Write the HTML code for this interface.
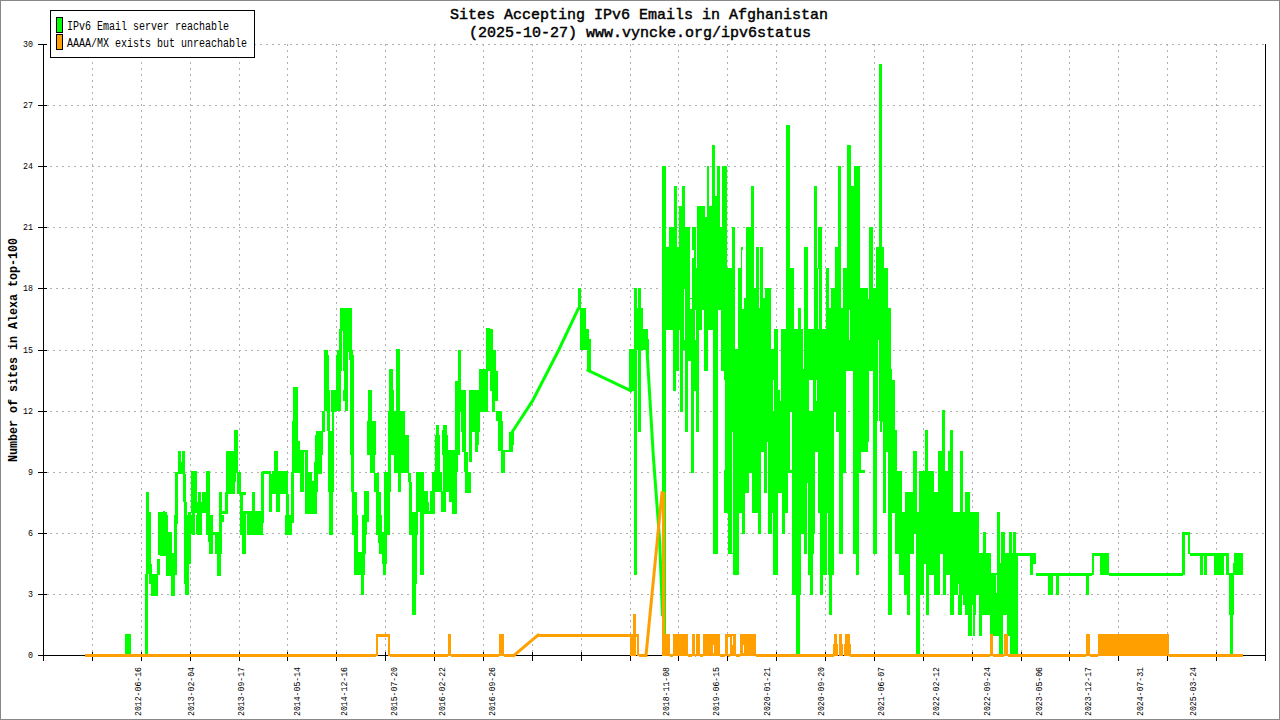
<!DOCTYPE html><html><head><meta charset="utf-8"><style>html,body{margin:0;padding:0;background:#fff;overflow:hidden}svg{display:block}text{font-family:"Liberation Mono",monospace}</style></head><body><svg width="1280" height="720" viewBox="0 0 1280 720">
<rect x="0" y="0" width="1280" height="720" fill="#fff"/>
<path d="M47 594.5H1265 M47 472.5H1265 M47 350.5H1265 M47 227.5H1265 M47 105.5H1265" stroke="#b0b0b0" stroke-width="1" stroke-dasharray="2 4" fill="none" shape-rendering="crispEdges"/>
<path d="M47 533.5H1265 M47 411.5H1265 M47 288.5H1265 M47 166.5H1265 M47 44.5H1265" stroke="#b0b0b0" stroke-width="1" stroke-dasharray="2 4" stroke-dashoffset="3" fill="none" shape-rendering="crispEdges"/>
<path d="M92.5 44V652 M141.5 44V652 M190.5 44V652 M239.5 44V652 M287.5 44V652 M336.5 44V652 M385.5 44V652 M434.5 44V652 M483.5 44V652 M532.5 44V652 M581.5 44V652 M630.5 44V652 M678.5 44V652 M727.5 44V652 M776.5 44V652 M825.5 44V652 M874.5 44V652 M923.5 44V652 M972.5 44V652 M1021.5 44V652 M1069.5 44V652 M1118.5 44V652 M1167.5 44V652 M1216.5 44V652" stroke="#b0b0b0" stroke-width="1" stroke-dasharray="2 4" fill="none" shape-rendering="crispEdges"/>
<path d="M43.5 44V661 M38 655.5H1266 M1265.5 44V661 M38 594.5H47 M38 533.5H47 M38 472.5H47 M38 411.5H47 M38 350.5H47 M38 288.5H47 M38 227.5H47 M38 166.5H47 M38 105.5H47 M38 44.5H47 M92.5 652V661 M141.5 652V661 M190.5 652V661 M239.5 652V661 M287.5 652V661 M336.5 652V661 M385.5 652V661 M434.5 652V661 M483.5 652V661 M532.5 652V661 M581.5 652V661 M630.5 652V661 M678.5 652V661 M727.5 652V661 M776.5 652V661 M825.5 652V661 M874.5 652V661 M923.5 652V661 M972.5 652V661 M1021.5 652V661 M1069.5 652V661 M1118.5 652V661 M1167.5 652V661 M1216.5 652V661" stroke="#000" stroke-width="1" fill="none" shape-rendering="crispEdges"/>
<path d="M85 654H125V657H85ZM125 634H131V656H125ZM578 288H581V310H578ZM581 308H584V311H581ZM580 308H586V350H580ZM584 329H589V350H584ZM587 339H591V371H587ZM629 349H634V391H629ZM634 288H637V575H634ZM637 308H638V350H637ZM638 288H641V432H638ZM641 308H643V350H641ZM643 329H648V350H643ZM647 339H649V355H647ZM662 166H666V656H662ZM666 247H669V330H666ZM669 227H673V330H669ZM673 227H674V391H673ZM674 186H676V391H674ZM676 186H677V371H676ZM677 247H679V371H677ZM679 206H680V330H679ZM680 206H682V412H680ZM682 186H683V412H682ZM683 186H685V350H683ZM685 227H686V350H685ZM685 227H688V432H685ZM688 227H690V361H688ZM690 298H691V361H690ZM691 298H692V473H691ZM692 227H694V473H692ZM694 227H696V391H694ZM696 257H697V432H696ZM697 206H699V432H697ZM699 206H704V330H699ZM704 206H705V371H704ZM705 217H707V371H705ZM707 166H708V371H707ZM707 166H709V330H707ZM709 206H712V330H709ZM712 145H713V330H712ZM713 145H715V554H713ZM715 196H717V554H715ZM717 166H718V554H717ZM717 166H720V310H717ZM720 227H721V310H720ZM721 227H722V371H721ZM722 166H724V371H722ZM724 166H727V513H724ZM727 268H728V513H727ZM728 268H732V554H728ZM732 227H733V554H732ZM732 227H733V432H732ZM733 227H735V575H733ZM735 349H738V575H735ZM738 268H739V575H738ZM739 268H741V513H739ZM741 247H742V513H741ZM742 247H743V534H742ZM743 298H745V534H743ZM745 298H746V493H745ZM746 227H749V493H746ZM749 227H751V473H749ZM751 186H752V473H751ZM752 186H754V513H752ZM754 288H756V513H754ZM756 247H758V513H756ZM758 247H759V534H758ZM759 308H760V534H759ZM760 247H761V534H760ZM761 247H763V452H761ZM763 298H764V452H763ZM764 298H765V493H764ZM765 288H767V493H765ZM767 288H768V452H767ZM768 288H771V534H768ZM771 349H772V534H771ZM772 349H773V513H772ZM773 349H774V575H773ZM774 329H778V575H774ZM778 390H781V493H778ZM781 329H782V493H781ZM782 329H785V534H782ZM785 329H786V513H785ZM786 125H788V513H786ZM788 125H790V473H788ZM790 268H792V473H790ZM792 268H794V595H792ZM794 329H796V595H794ZM796 329H798V656H796ZM798 308H800V656H798ZM800 308H801V595H800ZM801 329H803V534H801ZM803 369H804V534H803ZM804 247H807V554H804ZM807 247H808V483H807ZM808 329H810V575H808ZM810 329H813V595H810ZM813 329H814V554H813ZM814 186H815V534H814ZM815 186H817V452H815ZM817 268H818V452H817ZM818 227H820V513H818ZM820 227H822V595H820ZM822 329H823V595H822ZM823 329H826V575H823ZM826 268H827V575H826ZM827 268H828V513H827ZM828 268H829V575H828ZM829 308H831V615H829ZM831 288H832V615H831ZM832 288H834V575H832ZM834 288H835V463H834ZM835 247H838V463H835ZM838 166H839V463H838ZM839 166H841V554H839ZM841 308H843V554H841ZM843 268H846V473H843ZM846 268H847V371H846ZM847 145H849V371H847ZM849 145H851V371H849ZM851 186H853V371H851ZM853 186H854V554H853ZM854 166H856V554H854ZM856 166H859V575H856ZM859 166H860V473H859ZM859 288H865V473H859ZM865 288H868V452H865ZM868 288H869V442H868ZM869 227H873V371H869ZM873 288H876V554H873ZM876 247H877V554H876ZM877 247H878V442H877ZM878 247H879V340H878ZM879 64H882V432H879ZM882 247H883V422H882ZM883 247H884V513H883ZM884 268H886V513H884ZM886 268H888V452H886ZM888 308H891V615H888ZM890 369H892V615H890ZM892 380H895V513H892ZM895 430H896V534H895ZM895 430H897V554H895ZM897 471H899V554H897ZM899 471H902V575H899ZM902 512H904V575H902ZM904 512H905V595H904ZM905 492H907V595H905ZM907 492H910V615H907ZM910 492H913V554H910ZM913 451H914V554H913ZM914 451H916V534H914ZM916 451H917V656H916ZM916 512H919V656H916ZM919 471H920V656H919ZM920 471H924V595H920ZM924 471H925V564H924ZM925 430H926V564H925ZM926 430H928V615H926ZM928 471H929V615H928ZM929 471H934V575H929ZM934 492H938V595H934ZM938 451H940V595H938ZM940 451H942V554H940ZM942 410H943V554H942ZM943 410H945V595H943ZM945 471H946V595H945ZM946 471H948V575H946ZM948 451H950V575H948ZM950 430H953V615H950ZM953 512H954V615H953ZM954 512H958V595H954ZM958 512H960V615H958ZM960 451H962V615H960ZM962 451H963V605H962ZM963 512H965V605H963ZM965 492H968V615H965ZM968 492H970V636H968ZM970 512H975V636H970ZM975 512H979V615H975ZM979 553H982V636H979ZM982 553H983V615H982ZM983 532H986V615H983ZM986 553H990V615H986ZM990 553H991V636H990ZM991 573H997V636H991ZM997 512H999V636H997ZM999 512H1000V656H999ZM1000 563H1001V656H1000ZM1001 532H1003V656H1001ZM1003 532H1005V615H1003ZM1005 553H1007V615H1005ZM1007 553H1009V636H1007ZM1009 532H1010V636H1009ZM1010 532H1012V656H1010ZM1012 553H1013V656H1012ZM1013 532H1016V656H1013ZM1016 553H1018V656H1016ZM1018 553H1036V556H1018ZM1030 553H1033V575H1030ZM1033 553H1036V564H1033ZM1036 573H1092V576H1036ZM1048 573H1053V595H1048ZM1056 573H1059V595H1056ZM1086 573H1089V595H1086ZM1092 553H1094V575H1092ZM1094 553H1100V556H1094ZM1100 553H1109V575H1100ZM1109 573H1183V576H1109ZM1182 532H1185V575H1182ZM1185 532H1190V535H1185ZM1188 532H1190V554H1188ZM1190 553H1228V556H1190ZM1200 553H1203V575H1200ZM1204 553H1207V575H1204ZM1214 553H1224V575H1214ZM1226 553H1229V575H1226ZM1229 573H1234V615H1229ZM1230 614H1233V656H1230ZM1233 563H1236V575H1233ZM1234 553H1243V575H1234ZM146 492H149V535H146ZM149 512H151V535H149ZM158 512H167V535H158ZM163 511H165V515H163ZM165 522H168V535H165ZM174 522H176V535H174ZM175 472H178V524H175ZM178 451H181V474H178ZM181 462H182V474H181ZM182 451H185V474H182ZM183 474H186V502H183ZM184 502H187V535H184ZM188 512H191V535H188ZM191 471H197V513H191ZM192 513H195V535H192ZM197 513H202V535H197ZM197 502H199V513H197ZM198 492H201V513H198ZM201 502H202V513H201ZM202 492H206V513H202ZM206 471H210V535H206ZM219 492H222V535H219ZM222 511H228V514H222ZM225 492H228V514H225ZM226 451H235V494H226ZM234 430H238V473H234ZM235 473H236V482H235ZM237 430H238V494H237ZM238 472H241V494H238ZM240 494H242V535H240ZM240 492H246V515H240ZM242 511H249V514H242ZM246 511H264V535H246ZM252 492H255V514H252ZM261 472H264V502H261ZM262 471H271V474H262ZM269 474H272V512H269ZM271 482H275V494H271ZM274 451H278V494H274ZM272 471H288V494H272ZM276 494H280V512H276ZM286 494H289V523H286ZM289 521H292V524H289ZM291 472H294V523H291ZM292 421H295V472H292ZM296 441H300V473H296ZM293 387H298V473H293ZM145 574H148V655H145ZM146 515H151V574H146ZM149 564H152V584H149ZM151 574H158V596H151ZM157 559H160V575H157ZM158 515H168V555H158ZM160 554H166V556H160ZM166 532H172V576H166ZM171 553H175V596H171ZM174 515H177V575H174ZM175 515H178V522H175ZM184 515H188V584H184ZM185 532H189V595H185ZM188 515H191V564H188ZM190 515H192V534H190ZM196 515H202V534H196ZM208 515H213V542H208ZM209 542H213V554H209ZM210 532H222V535H210ZM215 532H222V554H215ZM217 554H221V576H217ZM219 515H224V522H219ZM240 515H246V534H240ZM242 534H246V554H242ZM247 515H264V534H247ZM261 500H264V511H261ZM285 515H292V535H285ZM300 450H304V492H300ZM302 450H308V452H302ZM305 452H308V482H305ZM308 472H312V514H308ZM305 481H317V514H305ZM313 491H317V514H313ZM314 462H318V492H314ZM315 435H322V452H315ZM315 452H318V462H315ZM318 452H322V474H318ZM328 435H334V492H328ZM329 492H333V535H329ZM351 435H354V492H351ZM352 492H357V535H352ZM363 522H367V535H363ZM364 491H369V522H364ZM367 435H375V452H367ZM370 452H375V473H370ZM374 473H379V492H374ZM376 492H381V535H376ZM384 472H390V535H384ZM388 435H391V492H388ZM394 435H409V473H394ZM405 435H409V450H405ZM398 473H401V492H398ZM408 473H411V482H408ZM409 482H412V512H409ZM409 512H418V535H409ZM416 472H423V512H416ZM420 512H424V535H420ZM423 491H428V514H423ZM427 512H434V514H427ZM431 491H435V514H431ZM432 472H442V492H432ZM435 435H440V472H435ZM442 492H446V512H442ZM443 435H448V450H443ZM446 450H454V492H446ZM455 435H458V472H455ZM449 472H457V502H449ZM452 502H457V514H452ZM329 515H332V534H329ZM354 515H358V575H354ZM357 552H365V575H357ZM362 515H366V554H362ZM361 575H364V595H361ZM364 515H367V523H364ZM378 515H382V543H378ZM379 532H387V554H379ZM382 554H387V564H382ZM383 564H386V575H383ZM384 515H390V534H384ZM409 515H418V534H409ZM412 534H417V584H412ZM412 584H416V615H412ZM420 515H424V575H420ZM316 431H323V455H316ZM322 411H325V432H322ZM324 355H329V411H324ZM329 390H330V411H329ZM327 411H330V431H327ZM328 431H334V455H328ZM331 390H336V412H331ZM332 412H334V431H332ZM336 355H341V411H336ZM343 355H345V401H343ZM345 355H348V411H345ZM350 355H354V455H350ZM368 390H372V431H368ZM367 421H376V455H367ZM389 369H393V431H389ZM392 390H394V411H392ZM396 355H400V421H396ZM388 411H405V455H388ZM402 411H405V421H402ZM436 431H439V455H436ZM442 431H447V455H442ZM455 410H460V455H455ZM458 355H460V432H458ZM455 381H458V410H455ZM324 350H328V375H324ZM337 350H340V375H337ZM339 329H343V375H339ZM340 308H352V352H340ZM340 352H342V375H340ZM343 352H348V375H343ZM348 350H353V360H348ZM350 360H354V375H350ZM390 369H392V375H390ZM396 349H400V375H396ZM458 350H460V375H458ZM458 350H461V360H458ZM486 328H490V360H486ZM490 329H493V360H490ZM493 350H496V360H493ZM442 430H447V445H442ZM455 411H458V445H455ZM458 350H461V412H458ZM457 381H461V412H457ZM461 390H466V432H461ZM462 432H466V445H462ZM469 390H480V432H469ZM469 432H472V445H469ZM475 432H479V445H475ZM479 369H488V412H479ZM486 350H496V371H486ZM490 371H498V391H490ZM492 391H498V401H492ZM492 401H495V412H492ZM496 411H502V421H496ZM498 421H503V445H498ZM511 432H514V445H511ZM420 472H424V525H420ZM424 491H428V504H424ZM427 502H429V513H427ZM427 511H434V514H427ZM430 491H435V513H430ZM432 482H436V492H432ZM435 451H439V472H435ZM433 472H442V492H433ZM436 425H439V472H436ZM441 491H446V512H441ZM442 502H446V512H442ZM443 425H447V492H443ZM446 450H458V472H446ZM449 472H452V482H449ZM450 482H457V502H450ZM453 502H457V513H453ZM456 425H458V472H456ZM462 425H466V452H462ZM464 452H468V472H464ZM465 472H471V493H465ZM469 425H472V462H469ZM469 425H479V432H469ZM475 432H478V452H475ZM498 425H503V451H498ZM501 451H505V473H501ZM502 450H511V452H502ZM509 432H513V452H509Z" fill="#00ff00"/><path d="M342 331H343V371H342ZM348 352H349V390H348ZM341 371H344V390H341ZM246 514H247V540H246ZM263 523H264V534H263ZM243 495H246V511H243ZM720 380H725V470H720ZM732 432H733V553H732ZM773 380H774V411H773ZM780 390H781V401H780ZM790 412H792V470H790ZM809 380H813V411H809ZM816 380H817V401H816ZM834 412H836V470H834ZM836 432H839V470H836ZM861 452H865V470H861ZM877 421H880V445H877ZM767 442H768V470H767ZM684 289H685V340H684ZM690 299H692V309H690ZM692 250H694V258H692ZM695 310H696V340H695ZM696 250H697V268H696ZM702 310H704V330H702ZM742 250H744V309H742ZM778 320H781V340H778ZM818 269H819V329H818ZM849 310H850V340H849ZM868 288H869V299H868ZM958 584H959V595H958ZM962 595H963V615H962ZM972 605H973V636H972ZM976 595H979V615H976ZM996 575H997V593H996Z" fill="#fff"/><polyline points="512.50,431.47 532.50,400.92 558.75,350.00 578.00,309.27" fill="none" stroke="#00ff00" stroke-width="3" stroke-linecap="square"/><polyline points="588.00,370.37 630.80,390.73" fill="none" stroke="#00ff00" stroke-width="3" stroke-linecap="square"/><polyline points="647.00,350.00 653.30,455.91 659.60,539.41 662.50,614.77" fill="none" stroke="#00ff00" stroke-width="3" stroke-linecap="square"/><path d="M85 654H376V657H85ZM376 634H378V656H376ZM376 634H390V637H376ZM388 634H390V656H388ZM390 654H448V657H390ZM448 634H451V656H448ZM451 654H499V657H451ZM499 634H504V656H499ZM504 654H514V657H504ZM538 634H630V637H538ZM630 634H633V656H630ZM633 614H636V656H633ZM636 634H639V637H636ZM637 634H639V656H637ZM639 654H646V657H639ZM662 492H665V656H662ZM663 634H670V656H663ZM670 654H673V657H670ZM673 634H688V656H673ZM688 654H692V657H688ZM692 634H695V656H692ZM695 654H696V657H695ZM696 634H700V656H696ZM700 654H703V657H700ZM703 634H720V656H703ZM720 654H725V657H720ZM725 634H728V656H725ZM728 654H730V657H728ZM728 634H730V637H728ZM730 634H736V656H730ZM736 654H740V657H736ZM740 634H756V656H740ZM756 654H834V657H756ZM834 634H837V646H834ZM833 644H838V656H833ZM839 634H842V646H839ZM839 644H843V656H839ZM845 634H850V646H845ZM844 644H851V656H844ZM850 654H990V657H850ZM990 634H993V656H990ZM993 654H1004V657H993ZM1004 634H1008V656H1004ZM1008 654H1086V657H1008ZM1086 634H1090V656H1086ZM1090 654H1098V657H1090ZM1098 634H1169V656H1098ZM1169 654H1243V657H1169Z" fill="#ffa000"/><polyline points="514.00,655.50 538.00,635.13" fill="none" stroke="#ffa000" stroke-width="3" stroke-linecap="square"/><polyline points="646.00,655.50 662.00,492.57" fill="none" stroke="#ffa000" stroke-width="3" stroke-linecap="square"/><path d="M713 645H714V653H713ZM732 636H733V645H732ZM743 645H744V653H743ZM671 636H673V653H671Z" fill="#fff"/>
<text x="33" y="657.5" font-family="Liberation Mono" font-size="9" text-anchor="end" textLength="5" lengthAdjust="spacingAndGlyphs" fill="#000">0</text>
<text x="33" y="596.5" font-family="Liberation Mono" font-size="9" text-anchor="end" textLength="5" lengthAdjust="spacingAndGlyphs" fill="#000">3</text>
<text x="33" y="535.5" font-family="Liberation Mono" font-size="9" text-anchor="end" textLength="5" lengthAdjust="spacingAndGlyphs" fill="#000">6</text>
<text x="33" y="474.5" font-family="Liberation Mono" font-size="9" text-anchor="end" textLength="5" lengthAdjust="spacingAndGlyphs" fill="#000">9</text>
<text x="33" y="413.5" font-family="Liberation Mono" font-size="9" text-anchor="end" textLength="10" lengthAdjust="spacingAndGlyphs" fill="#000">12</text>
<text x="33" y="352.5" font-family="Liberation Mono" font-size="9" text-anchor="end" textLength="10" lengthAdjust="spacingAndGlyphs" fill="#000">15</text>
<text x="33" y="290.5" font-family="Liberation Mono" font-size="9" text-anchor="end" textLength="10" lengthAdjust="spacingAndGlyphs" fill="#000">18</text>
<text x="33" y="229.5" font-family="Liberation Mono" font-size="9" text-anchor="end" textLength="10" lengthAdjust="spacingAndGlyphs" fill="#000">21</text>
<text x="33" y="168.5" font-family="Liberation Mono" font-size="9" text-anchor="end" textLength="10" lengthAdjust="spacingAndGlyphs" fill="#000">24</text>
<text x="33" y="107.5" font-family="Liberation Mono" font-size="9" text-anchor="end" textLength="10" lengthAdjust="spacingAndGlyphs" fill="#000">27</text>
<text x="33" y="46.5" font-family="Liberation Mono" font-size="9" text-anchor="end" textLength="10" lengthAdjust="spacingAndGlyphs" fill="#000">30</text>
<text transform="translate(141 716) rotate(-90)" x="0" y="0" font-family="Liberation Mono" font-size="9" textLength="49" lengthAdjust="spacingAndGlyphs" fill="#000">2012-06-16</text>
<text transform="translate(194 716) rotate(-90)" x="0" y="0" font-family="Liberation Mono" font-size="9" textLength="49" lengthAdjust="spacingAndGlyphs" fill="#000">2013-02-04</text>
<text transform="translate(244 716) rotate(-90)" x="0" y="0" font-family="Liberation Mono" font-size="9" textLength="49" lengthAdjust="spacingAndGlyphs" fill="#000">2013-09-17</text>
<text transform="translate(300 716) rotate(-90)" x="0" y="0" font-family="Liberation Mono" font-size="9" textLength="49" lengthAdjust="spacingAndGlyphs" fill="#000">2014-05-14</text>
<text transform="translate(347 716) rotate(-90)" x="0" y="0" font-family="Liberation Mono" font-size="9" textLength="49" lengthAdjust="spacingAndGlyphs" fill="#000">2014-12-16</text>
<text transform="translate(396.6 716) rotate(-90)" x="0" y="0" font-family="Liberation Mono" font-size="9" textLength="49" lengthAdjust="spacingAndGlyphs" fill="#000">2015-07-20</text>
<text transform="translate(445.4 716) rotate(-90)" x="0" y="0" font-family="Liberation Mono" font-size="9" textLength="49" lengthAdjust="spacingAndGlyphs" fill="#000">2016-02-22</text>
<text transform="translate(494.75 716) rotate(-90)" x="0" y="0" font-family="Liberation Mono" font-size="9" textLength="49" lengthAdjust="spacingAndGlyphs" fill="#000">2016-09-26</text>
<text transform="translate(669 716) rotate(-90)" x="0" y="0" font-family="Liberation Mono" font-size="9" textLength="49" lengthAdjust="spacingAndGlyphs" fill="#000">2018-11-08</text>
<text transform="translate(719 716) rotate(-90)" x="0" y="0" font-family="Liberation Mono" font-size="9" textLength="49" lengthAdjust="spacingAndGlyphs" fill="#000">2019-06-15</text>
<text transform="translate(770.4 716) rotate(-90)" x="0" y="0" font-family="Liberation Mono" font-size="9" textLength="49" lengthAdjust="spacingAndGlyphs" fill="#000">2020-01-21</text>
<text transform="translate(824 716) rotate(-90)" x="0" y="0" font-family="Liberation Mono" font-size="9" textLength="49" lengthAdjust="spacingAndGlyphs" fill="#000">2020-09-20</text>
<text transform="translate(883.5 716) rotate(-90)" x="0" y="0" font-family="Liberation Mono" font-size="9" textLength="49" lengthAdjust="spacingAndGlyphs" fill="#000">2021-06-07</text>
<text transform="translate(939 716) rotate(-90)" x="0" y="0" font-family="Liberation Mono" font-size="9" textLength="49" lengthAdjust="spacingAndGlyphs" fill="#000">2022-02-12</text>
<text transform="translate(990 716) rotate(-90)" x="0" y="0" font-family="Liberation Mono" font-size="9" textLength="49" lengthAdjust="spacingAndGlyphs" fill="#000">2022-09-24</text>
<text transform="translate(1042 716) rotate(-90)" x="0" y="0" font-family="Liberation Mono" font-size="9" textLength="49" lengthAdjust="spacingAndGlyphs" fill="#000">2023-05-06</text>
<text transform="translate(1091 716) rotate(-90)" x="0" y="0" font-family="Liberation Mono" font-size="9" textLength="49" lengthAdjust="spacingAndGlyphs" fill="#000">2023-12-17</text>
<text transform="translate(1143 716) rotate(-90)" x="0" y="0" font-family="Liberation Mono" font-size="9" textLength="49" lengthAdjust="spacingAndGlyphs" fill="#000">2024-07-31</text>
<text transform="translate(1196 716) rotate(-90)" x="0" y="0" font-family="Liberation Mono" font-size="9" textLength="49" lengthAdjust="spacingAndGlyphs" fill="#000">2025-03-24</text>
<text transform="translate(17 462) rotate(-90)" x="0" y="0" font-family="Liberation Mono" font-weight="bold" font-size="13.5" textLength="224" lengthAdjust="spacingAndGlyphs" fill="#000">Number of sites in Alexa top-100</text>
<text x="450" y="19" font-family="Liberation Mono" font-size="15" stroke="#000" stroke-width="0.45" textLength="378" lengthAdjust="spacingAndGlyphs" fill="#000">Sites Accepting IPv6 Emails in Afghanistan</text>
<text x="469" y="37" font-family="Liberation Mono" font-size="15" stroke="#000" stroke-width="0.45" textLength="342" lengthAdjust="spacingAndGlyphs" fill="#000">(2025-10-27) www.vyncke.org/ipv6status</text>
<rect x="50.5" y="10.5" width="204" height="47" fill="#fff" stroke="#000" stroke-width="1" shape-rendering="crispEdges"/>
<rect x="56.5" y="17.5" width="6" height="15" fill="#00ff00" stroke="#000" stroke-width="1" shape-rendering="crispEdges"/>
<rect x="56.5" y="34.5" width="6" height="15" fill="#ffa000" stroke="#000" stroke-width="1" shape-rendering="crispEdges"/>
<text x="67" y="30" font-family="Liberation Mono" font-size="12" textLength="162" lengthAdjust="spacingAndGlyphs" fill="#000">IPv6 Email server reachable</text>
<text x="67" y="47" font-family="Liberation Mono" font-size="12" textLength="180" lengthAdjust="spacingAndGlyphs" fill="#000">AAAA/MX exists but unreachable</text>
<rect x="0.5" y="0.5" width="1279" height="719" fill="none" stroke="#888" stroke-width="1" shape-rendering="crispEdges"/>
</svg></body></html>
